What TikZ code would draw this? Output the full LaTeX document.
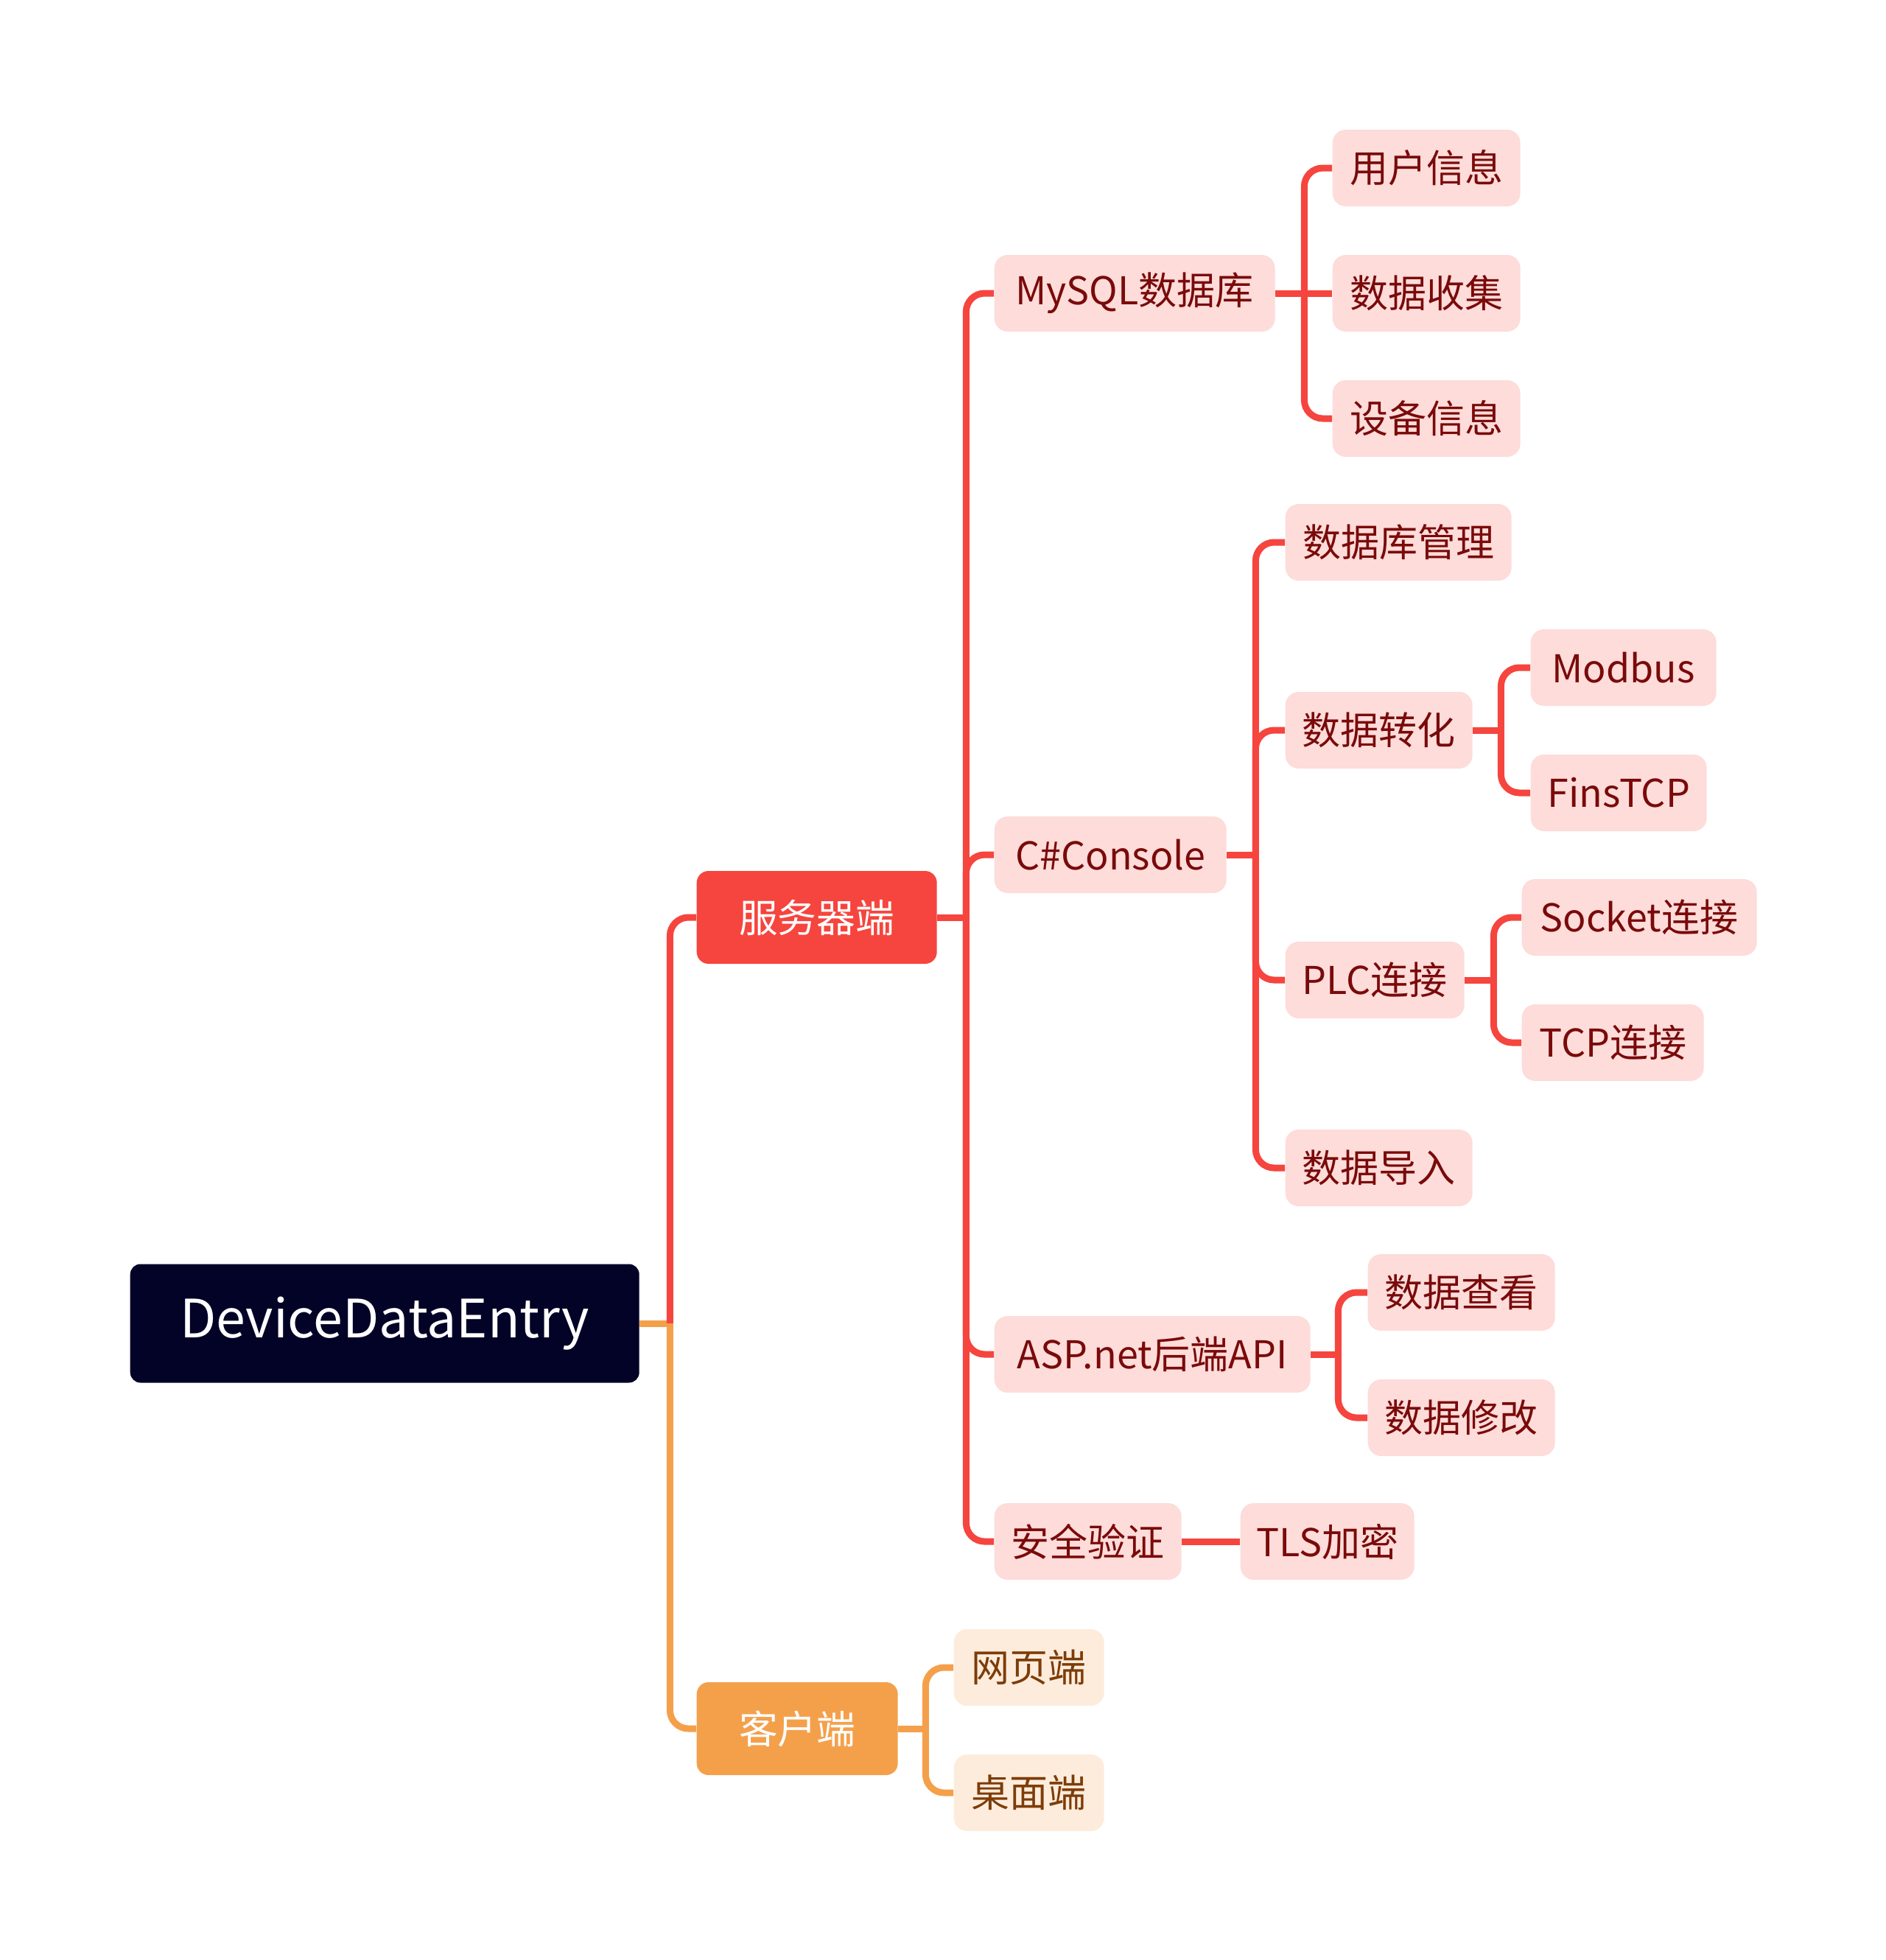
\documentclass[tikz,border=0pt]{standalone}
\usepackage{fontspec}
\setmainfont{Noto Sans CJK SC}
\usepackage{xcolor}
\usetikzlibrary{positioning}
\definecolor{rootfill}{RGB}{3, 3, 40}
\definecolor{srvred}{RGB}{245, 69, 62}
\definecolor{cliorange}{RGB}{244, 160, 75}
\definecolor{pinkfill}{RGB}{253, 220, 218}
\definecolor{peachfill}{RGB}{253, 236, 220}
\definecolor{darkred}{RGB}{122, 10, 10}
\definecolor{brown}{RGB}{125, 60, 8}

\begin{document}
\begin{tikzpicture}[
    every node/.style={anchor=west, inner xsep=0pt, inner ysep=0pt, align=center},
    rootbox/.style={rectangle, rounded corners=0.14cm, fill=rootfill, text=white, minimum height=1.61cm, font=\fontsize{20.4pt}{24pt}\selectfont},
    topbox/.style={rectangle, rounded corners=0.16cm, text=white, minimum height=1.26cm, font=\fontsize{15pt}{18pt}\selectfont},
    subbox/.style={rectangle, rounded corners=0.18cm, fill=pinkfill, text=darkred, minimum height=1.04cm, font=\fontsize{14.8pt}{18pt}\selectfont},
    clibox/.style={subbox, fill=peachfill, text=brown},
    redline/.style={draw=srvred, line width=0.09cm, rounded corners=0.25cm},
    orangeline/.style={draw=cliorange, line width=0.09cm, rounded corners=0.25cm}
  ]
  \useasboundingbox (0,0) rectangle (25.6,-26.6);

  % Raiz y ramas principales
  \node[rootbox, minimum width=6.91cm] (root) at (1.76,-17.96) {DeviceDataEntry};
  \node[topbox, fill=srvred, minimum width=3.26cm] (srv) at (9.45,-12.45) {服务器端};
  \node[topbox, fill=cliorange, minimum width=2.73cm] (cli) at (9.45,-23.46) {客户端};

  % Servidor
  \node[subbox, minimum width=3.81cm] (mysql) at (13.49,-3.98) {MySQL数据库};
  \node[subbox, minimum width=3.15cm] (csharp) at (13.49,-11.60) {C\#Console};
  \node[subbox, minimum width=4.29cm] (asp) at (13.49,-18.38) {ASP.net后端API};
  \node[subbox, minimum width=2.54cm] (auth) at (13.49,-20.92) {安全验证};

  \node[subbox, minimum width=2.55cm] (user) at (18.08,-2.28) {用户信息};
  \node[subbox, minimum width=2.55cm] (collect) at (18.08,-3.98) {数据收集};
  \node[subbox, minimum width=2.55cm] (device) at (18.08,-5.68) {设备信息};

  \node[subbox, minimum width=3.07cm] (dbm) at (17.44,-7.36) {数据库管理};
  \node[subbox, minimum width=2.54cm] (conv) at (17.44,-9.91) {数据转化};
  \node[subbox, minimum width=2.43cm] (plc) at (17.44,-13.30) {PLC连接};
  \node[subbox, minimum width=2.54cm] (imp) at (17.44,-15.85) {数据导入};

  \node[subbox, minimum width=2.52cm] (modbus) at (20.77,-9.06) {Modbus};
  \node[subbox, minimum width=2.39cm] (fins) at (20.77,-10.76) {FinsTCP};
  \node[subbox, minimum width=3.19cm] (socket) at (20.65,-12.45) {Socket连接};
  \node[subbox, minimum width=2.47cm] (tcp) at (20.65,-14.15) {TCP连接};

  \node[subbox, minimum width=2.54cm] (view) at (18.56,-17.54) {数据查看};
  \node[subbox, minimum width=2.54cm] (modify) at (18.56,-19.24) {数据修改};
  \node[subbox, minimum width=2.36cm] (tls) at (16.83,-20.92) {TLS加密};

  % Cliente
  \node[clibox, minimum width=2.04cm] (web) at (12.94,-22.63) {网页端};
  \node[clibox, minimum width=2.04cm] (desk) at (12.94,-24.33) {桌面端};

  % Conexiones
  \draw[orangeline] (root.east) -- ++(0.41,0) coordinate (rb);
  \draw[redline] (rb) |- (srv.west);
  \draw[orangeline] (rb) |- (cli.west);

  \draw[redline] (srv.east) -- ++(0.39,0) coordinate (sb);
  \foreach \c in {mysql, csharp, asp, auth} \draw[redline] (sb) |- (\c.west);

  \draw[redline] (mysql.east) -- ++(0.39,0) coordinate (mb);
  \foreach \c in {user, device} \draw[redline] (mb) |- (\c.west);
  \draw[redline] (mb) -- (collect.west);

  \draw[redline] (csharp.east) -- ++(0.39,0) coordinate (cb);
  \foreach \c in {dbm, conv, plc, imp} \draw[redline] (cb) |- (\c.west);

  \draw[redline] (conv.east) -- ++(0.38,0) coordinate (vb);
  \foreach \c in {modbus, fins} \draw[redline] (vb) |- (\c.west);

  \draw[redline] (plc.east) -- ++(0.39,0) coordinate (pb);
  \foreach \c in {socket, tcp} \draw[redline] (pb) |- (\c.west);

  \draw[redline] (asp.east) -- ++(0.37,0) coordinate (ab);
  \foreach \c in {view, modify} \draw[redline] (ab) |- (\c.west);

  \draw[redline] (auth) -- (tls);

  \draw[orangeline] (cli.east) -- ++(0.37,0) coordinate (kb);
  \foreach \c in {web, desk} \draw[orangeline] (kb) |- (\c.west);
\end{tikzpicture}
\end{document}
